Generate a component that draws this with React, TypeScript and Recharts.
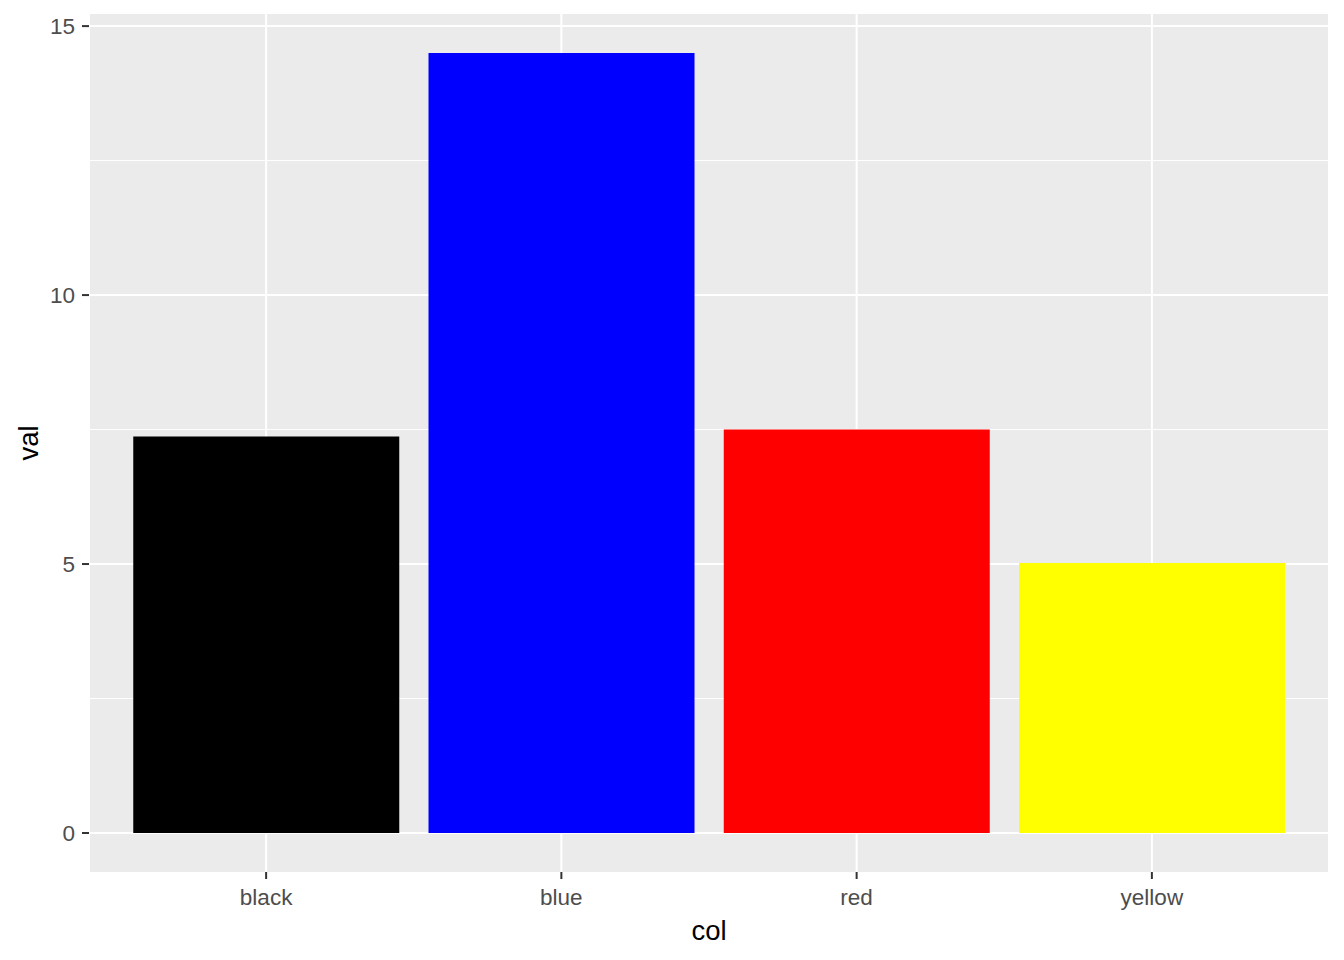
import React from 'react';
import { BarChart, Bar, XAxis, YAxis, CartesianGrid, Cell } from 'recharts';

const categories = ['black', 'blue', 'red', 'yellow'];
const values = [7.37, 14.5, 7.5, 5.02];
const barColors = ['#000000', '#0000FF', '#FF0000', '#FFFF00'];
const yTicks = [0, 5, 10, 15];
const yMinorTicks = [2.5, 7.5, 12.5];

const data = categories.map((c, i) => ({ col: c, val: values[i] }));

const FONT = '"Liberation Sans", Arial, sans-serif';

export default function App() {
  return (
    <div style={{ position: 'absolute', left: 0, top: 0, width: 1344, height: 960, background: '#FFFFFF' }}>
      <BarChart
        width={1344}
        height={960}
        data={data}
        margin={{ top: 14, right: 15, bottom: 0, left: 0 }}
        barCategoryGap="5%"
        style={{ fontFamily: FONT }}
      >
        <CartesianGrid
          fill="#EBEBEB"
          stroke="#FFFFFF"
          strokeWidth={1}
          horizontalValues={yMinorTicks}
          vertical={false}
        />
        <CartesianGrid
          stroke="#FFFFFF"
          strokeWidth={2}
          horizontalValues={yTicks}
        />
        <XAxis
          dataKey="col"
          type="category"
          height={88}
          padding={{ left: 29.5, right: 29.5 }}
          axisLine={false}
          tickLine={{ stroke: '#333333', strokeWidth: 2 }}
          tickSize={7}
          tickMargin={10}
          tick={{ fill: '#4D4D4D', fontSize: 22.5, fontFamily: FONT }}
          label={{ value: 'col', position: 'insideBottom', offset: 20, fill: '#000000', fontSize: 27.5, fontFamily: FONT }}
        />
        <YAxis
          type="number"
          width={89}
          domain={[-0.725, 15.225]}
          ticks={yTicks}
          axisLine={false}
          tickLine={{ stroke: '#333333', strokeWidth: 2 }}
          tickSize={7}
          tickMargin={7}
          tick={{ fill: '#4D4D4D', fontSize: 22.5, fontFamily: FONT }}
          label={{ value: 'val', angle: -90, position: 'insideLeft', offset: 28, fill: '#000000', fontSize: 27.5, fontFamily: FONT, style: { textAnchor: 'middle' } }}
        />
        <Bar dataKey="val" isAnimationActive={false}>
          {data.map((d, i) => (
            <Cell key={d.col} fill={barColors[i]} />
          ))}
        </Bar>
      </BarChart>
    </div>
  );
}
